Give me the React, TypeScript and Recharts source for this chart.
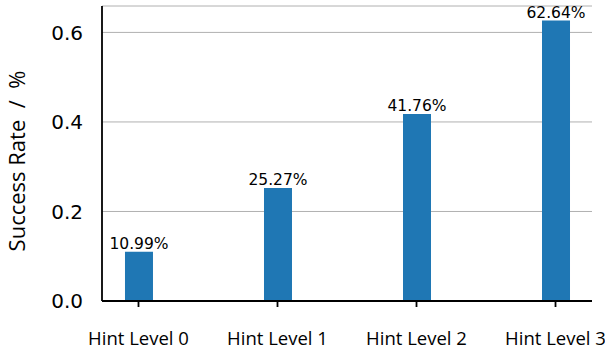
import { BarChart, Bar, CartesianGrid, XAxis, YAxis, LabelList, Label } from 'recharts';

const levels = ["Hint Level 0", "Hint Level 1", "Hint Level 2", "Hint Level 3"];
const successRates = [0.1099, 0.2527, 0.4176, 0.6264];
const yTicks = [0, 0.2, 0.4, 0.6];

const data = levels.map((name, i) => ({ idx: i, name, rate: successRates[i] }));

const App = () => {
    return (
        <div style={{ position: "absolute", left: 0, top: 0 }}>
            <BarChart width={605} height={351} data={data} margin={{ top: 6, right: 13, left: 0, bottom: 0 }}>
                <CartesianGrid vertical={false} stroke="#b0b0b0" strokeWidth={1} />
                <XAxis
                    dataKey="idx"
                    type="number"
                    domain={[-0.2625, 3.2625]}
                    ticks={[0, 1, 2, 3]}
                    tickFormatter={(v: number) => levels[v]}
                    height={50}
                    stroke="#000"
                    strokeWidth={1.8}
                    tickSize={6}
                    tickMargin={25}
                    tick={{ fill: "#000", fontSize: 18.5, fontFamily: "Open Sans" }}
                    interval={0}
                />
                <YAxis
                    type="number"
                    domain={[0, 0.659]}
                    ticks={yTicks}
                    tickFormatter={(v: number) => v.toFixed(1)}
                    width={102}
                    stroke="#000"
                    strokeWidth={1.8}
                    tickLine={false}
                    tickSize={10}
                    tickMargin={9}
                    tick={{ fill: "#000", fontSize: 20, fontFamily: "DejaVu Sans" }}
                >
                    <Label
                        content={() => (
                            <text
                                x={16}
                                y={161}
                                transform="rotate(-90 16 161)"
                                textAnchor="middle"
                                dominantBaseline="central"
                                fontSize={22}
                                fontFamily="Open Sans"
                                fill="#000"
                                style={{ whiteSpace: "pre" }}
                            >
                                {"Success Rate  /  %"}
                            </text>
                        )}
                    />
                </YAxis>
                <Bar dataKey="rate" fill="#1f77b4" barSize={28} isAnimationActive={false}>
                    <LabelList
                        dataKey="rate"
                        position="top"
                        offset={3}
                        formatter={(v: any) => (Number(v) * 100).toFixed(2) + "%"}
                        style={{ fill: "#000", fontSize: 15.5, fontFamily: "DejaVu Sans" }}
                    />
                </Bar>
            </BarChart>
        </div>
    );
};

export default App;
